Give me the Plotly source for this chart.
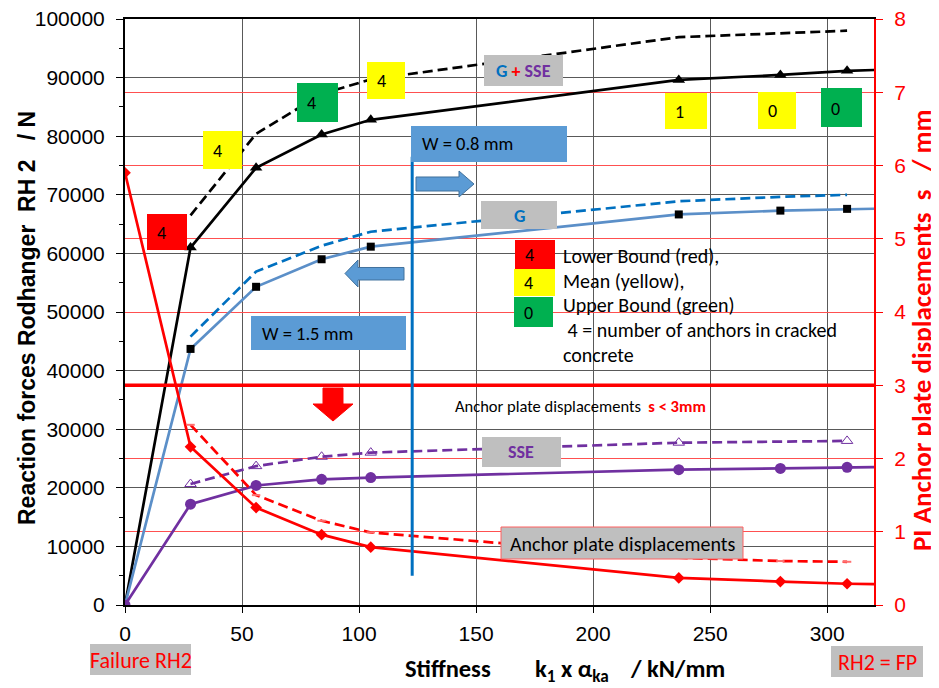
import plotly.graph_objects as go

# ---------------- data ----------------
k_solid = [0, 28, 56, 84, 105, 236.6, 280, 308.5, 336]
k_dash = [28, 56, 84, 105, 236.6, 280, 308.5]
k_sse_dash = [28, 56, 84, 105, 236.6, 308.5]

gsse_mean = [0, 61000, 74600, 80300, 82800, 89600, 90450, 91150, 91500]
gsse_upper = [66500, 80400, 87200, 89700, 96900, 97500, 98000]
g_mean = [0, 43700, 54300, 59000, 61150, 66650, 67300, 67600, 67750]
g_upper = [45800, 56900, 61300, 63700, 68900, 69650, 70000]
sse_mean = [0, 17200, 20400, 21450, 21750, 23100, 23300, 23500, 23600]
sse_upper = [20650, 23700, 25300, 26000, 27700, 28000]
s_mean = [5.9, 2.16, 1.33, 0.96, 0.79, 0.37, 0.32, 0.29, 0.28]
s_upper = [2.46, 1.50, 1.15, 0.99, 0.645, 0.60, 0.59]

x_ticks = [0, 50, 100, 150, 200, 250, 300]
s_limit = 3
w08_x = 122.7
w08_y = [5000, 76500]

# ---------------- layout geometry ----------------
OFF = 8                      # page body margin
FIG_W, FIG_H = 939 - OFF, 688 - OFF
L, T, W, H = 125 - OFF, 19 - OFF, 749, 586


def px(xp):
    return (xp - OFF - L) / W


def py(yp):
    return (T + H - (yp - OFF)) / H


BLACK = "#000000"
BLUE = "#5B8FC8"
BLUE_D = "#0070C0"
PURPLE = "#7030A0"
RED = "#FF0000"
YELLOW = "#FFFF00"
GREEN = "#00B050"
GRAY = "#BFBFBF"
BOXBLUE = "#5B9BD5"
CAL = "Carlito, Lato, sans-serif"
ARIAL = "Liberation Sans, Arial, sans-serif"
DASH = "10px,5px"

fig = go.Figure()

fig.add_trace(go.Scatter(x=k_solid, y=gsse_mean, mode="lines+markers",
                         line=dict(color=BLACK, width=2.7),
                         marker=dict(symbol="triangle-up", size=11, color=BLACK)))
fig.add_trace(go.Scatter(x=k_dash, y=gsse_upper, mode="lines",
                         line=dict(color=BLACK, width=2.7, dash=DASH)))
fig.add_trace(go.Scatter(x=k_solid, y=g_mean, mode="lines+markers",
                         line=dict(color=BLUE, width=2.7),
                         marker=dict(symbol="square", size=8, color=BLACK)))
fig.add_trace(go.Scatter(x=k_dash, y=g_upper, mode="lines",
                         line=dict(color=BLUE_D, width=2.7, dash=DASH)))
fig.add_trace(go.Scatter(x=k_solid, y=sse_mean, mode="lines+markers",
                         line=dict(color=PURPLE, width=2.7),
                         marker=dict(symbol="circle", size=11, color=PURPLE)))
fig.add_trace(go.Scatter(x=k_sse_dash, y=sse_upper, mode="lines+markers",
                         line=dict(color=PURPLE, width=2.7, dash=DASH),
                         marker=dict(symbol="triangle-up-open", size=10, color=PURPLE,
                                     line=dict(width=1, color=PURPLE))))
fig.add_trace(go.Scatter(x=k_solid, y=s_mean, mode="lines+markers", yaxis="y2",
                         line=dict(color=RED, width=2.7),
                         marker=dict(symbol="diamond", size=9, color=RED)))
fig.add_trace(go.Scatter(x=k_dash, y=s_upper, mode="lines+markers", yaxis="y2",
                         line=dict(color=RED, width=2.7, dash=DASH),
                         marker=dict(symbol="line-ew", size=6, color="#FF7070",
                                     line=dict(width=2, color="#FF7070"))))

shapes = []
annotations = []


def rect(x0, y0, x1, y1, fill, line_color=None, layer="above", lw=1):
    shapes.append(dict(type="rect", xref="paper", yref="paper",
                       x0=px(x0), x1=px(x1), y0=py(y1), y1=py(y0),
                       fillcolor=fill, layer=layer,
                       line=dict(color=line_color or fill, width=lw if line_color else 0)))


def text(xp, yp, s, size=15, color=BLACK, family=CAL, xanchor="left", angle=0):
    annotations.append(dict(xref="paper", yref="paper", x=px(xp), y=py(yp), text=s,
                            showarrow=False, xanchor=xanchor, yanchor="middle",
                            textangle=angle, font=dict(size=size, color=color, family=family)))


def path(points, fill, line_color=None):
    d = "M " + " L ".join(f"{px(a):.5f},{py(b):.5f}" for a, b in points) + " Z"
    shapes.append(dict(type="path", xref="paper", yref="paper", path=d,
                       fillcolor=fill, layer="above",
                       line=dict(color=line_color or fill, width=1)))


# white boxes covering gridlines (legend area and note area)
rect(514, 237, 857, 380, "white", layer="between")
rect(446, 386, 866, 432, "white", layer="between")

# threshold line s = 3 mm
shapes.append(dict(type="line", xref="paper", yref="y2", x0=0, x1=1, y0=s_limit, y1=s_limit,
                   line=dict(color=RED, width=3.5), layer="above"))
# crack width line
shapes.append(dict(type="line", xref="x", yref="y", x0=w08_x, x1=w08_x, y0=w08_y[0], y1=w08_y[1],
                   line=dict(color=BLUE_D, width=3), layer="above"))

# number boxes on curves
for (x0, y0, x1, y1, c, t) in [
    (147, 214, 187, 250, RED, "4"),
    (203, 131, 242, 169, YELLOW, "4"),
    (297, 83, 338, 122, GREEN, "4"),
    (367, 62, 405, 99, YELLOW, "4"),
    (665, 93, 707, 129, YELLOW, "1"),
    (758, 92, 796, 129, YELLOW, "0"),
    (821, 88, 862, 127, GREEN, "0"),
]:
    rect(x0, y0, x1, y1, c)
    text(x0 + 8, (y0 + y1) / 2 + 1, t, size=18)

# legend squares
rect(515, 240, 555, 269, RED)
text(523, 255, "4", size=18)
rect(514, 269, 555, 296, YELLOW)
text(522, 283, "4", size=18)
rect(514, 297, 553, 327, GREEN)
text(522, 313, "0", size=18)
legend_lines = ["Lower Bound (red),", "Mean (yellow),", "Upper Bound (green)",
                " 4 = number of anchors in cracked", "concrete"]
for i, s in enumerate(legend_lines):
    text(561, 256 + i * 24.7, s.replace(" ", "\u00a0"), size=20)

# curve labels
rect(484, 55, 563, 86, GRAY)
text(523, 71, f"<b><span style='color:{BLUE_D}'>G</span> <span style='color:{RED}'>+</span> "
     f"<span style='color:{PURPLE}'>SSE</span></b>", size=18, xanchor="center")
rect(481, 201, 557, 229, GRAY)
text(519, 216, "<b>G</b>", size=18, color=BLUE_D, xanchor="center")
rect(482, 437, 561, 467, GRAY)
text(521, 452, "<b>SSE</b>", size=18, color=PURPLE, xanchor="center")
rect(501, 527, 743, 559, GRAY, line_color="#FF6060")
text(622, 544, "Anchor plate displacements", size=20, xanchor="center")

# crack width boxes
rect(411, 126, 567, 162, BOXBLUE)
text(420, 143, "W = 0.8 mm", size=18.5)
rect(251, 316, 406, 350, BOXBLUE)
text(260, 333, "W = 1.5 mm", size=18.5)

# arrows
path([(416, 177), (459, 177), (459, 171), (474, 184), (459, 197), (459, 191), (416, 191)],
     BOXBLUE, "#41719C")
path([(345, 273.5), (358, 260), (358, 267.5), (404, 267.5), (404, 280), (358, 280), (358, 287)],
     BOXBLUE, "#41719C")
path([(323, 388), (343, 388), (343, 404), (353, 404), (333, 421), (313, 404), (323, 404)], RED)

text(453, 406, "Anchor plate displacements\u00a0\u00a0"
     f"<b><span style='color:{RED}'>s &lt; 3mm</span></b>", size=16.5)

# bottom labels
rect(90, 644, 191, 675, GRAY)
text(140.5, 660, "Failure RH2", size=22, color=RED, xanchor="center")
rect(831, 646, 923, 677, GRAY)
text(877, 662, "RH2 = FP", size=22, color=RED, xanchor="center")

# axis titles
text(565, 671, "<b>Stiffness" + "\u00a0" * 8 + "k<sub>1</sub> x α<sub>ka</sub>" + "\u00a0" * 4
     + "/ kN/mm</b>", size=24.5, xanchor="center")
text(27, 318, "<b>Reaction forces Rodhanger\u00a0\u00a0RH 2\u00a0\u00a0\u00a0/ N</b>", size=23,
     family=ARIAL, xanchor="center", angle=-90)
text(921, 330, "<b>PI Anchor plate displacements\u00a0\u00a0s\u00a0\u00a0\u00a0/ mm</b>", size=27,
     color=RED, xanchor="center", angle=-90)

fig.update_layout(
    width=FIG_W, height=FIG_H,
    margin=dict(l=L, r=FIG_W - L - W, t=T, b=FIG_H - T - H, pad=0, autoexpand=False),
    paper_bgcolor="white", plot_bgcolor="white",
    showlegend=False,
    shapes=shapes, annotations=annotations,
    xaxis=dict(range=[0, 320], tickvals=x_ticks, showgrid=True, gridcolor="#595959", gridwidth=1,
               automargin=False, ticklabeloverflow="allow",
               zeroline=False, showline=True, linecolor=BLACK, linewidth=2, mirror=True,
               ticks="outside", ticklen=6, tickcolor=BLACK, ticklabelstandoff=3,
               tickfont=dict(size=21, family=ARIAL, color=BLACK)),
    yaxis=dict(range=[0, 100000], dtick=10000, tickformat="d", showgrid=True,
               gridcolor="#595959", gridwidth=1, automargin=False, ticklabeloverflow="allow",
               zeroline=False, showline=True, linecolor=BLACK, linewidth=2,
               ticks="outside", ticklen=7, tickcolor=BLACK, ticklabelstandoff=7,
               minor=dict(dtick=5000, ticks="outside", ticklen=4, tickcolor=BLACK, showgrid=False),
               tickfont=dict(size=21, family=ARIAL, color=BLACK)),
    yaxis2=dict(range=[0, 8], dtick=1, overlaying="y", side="right", showgrid=True,
                gridcolor="#FF5050", gridwidth=1, zeroline=False, showline=True, automargin=False,
                ticklabeloverflow="allow",
                linecolor=RED, linewidth=2, ticks="outside", ticklen=7, tickcolor=RED,
                ticklabelstandoff=7, tickfont=dict(size=21, family=ARIAL, color=RED)),
)

fig.write_html("out.html")
